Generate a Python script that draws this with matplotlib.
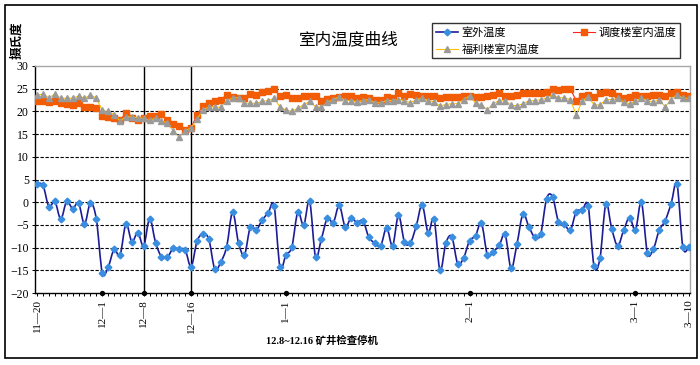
import matplotlib
matplotlib.use("Agg")
import matplotlib.pyplot as plt
import matplotlib.dates as mdates
from matplotlib.lines import Line2D
from matplotlib.path import Path
from matplotlib.patches import PathPatch, Rectangle
import pandas as pd

plt.rcParams['font.family'] = ['Liberation Serif', 'Noto Sans CJK SC', 'DejaVu Sans']

# daily readings, 11-20 .. 3-10
days = pd.date_range('2010-11-20', '2011-03-10', freq='D')

outdoor = [4.0, 3.7, -1.0, 0.2, -3.7, 0.2, -1.4, -0.2, -4.8, -0.2,
           -3.7, -15.5, -14.3, -10.4, -11.7, -4.8, -8.7, -6.7, -9.6, -3.6,
           -8.9, -12.0, -12.1, -10.1, -10.4, -10.5, -14.2, -8.6, -7.0, -8.2,
           -14.8, -13.2, -9.8, -2.2, -9.0, -11.6, -5.4, -6.1, -3.9, -2.4,
           -0.8, -14.3, -11.6, -9.9, -2.2, -5.1, 0.2, -12.0, -8.0, -3.5,
           -4.5, -0.7, -5.4, -3.5, -4.5, -4.1, -7.7, -9.0, -9.6, -5.6,
           -9.6, -2.9, -8.7, -9.0, -5.2, -0.6, -6.7, -3.7, -15.0, -9.0,
           -7.6, -13.6, -12.2, -8.5, -7.4, -4.6, -11.6, -10.9, -9.5, -7.1,
           -14.6, -9.2, -2.6, -5.4, -7.7, -7.0, 0.8, 1.2, -4.3, -4.8,
           -6.2, -2.1, -1.8, -0.8, -14.0, -12.4, -0.4, -5.9, -9.6, -6.2,
           -3.4, -6.1, 0.0, -11.1, -10.4, -6.2, -4.1, -0.4, 4.0, -9.9,
           -9.9]

diaodu = [22.4, 22.4, 22.1, 22.3, 21.8, 21.7, 21.5, 21.8, 21.0, 21.0,
          20.8, 19.0, 18.8, 18.5, 18.0, 19.7, 18.5, 18.2, 18.6, 19.0,
          19.0, 19.5, 18.0, 17.3, 16.8, 16.0, 16.4, 19.3, 21.2, 21.9,
          22.4, 22.6, 23.6, 23.2, 23.0, 23.0, 23.9, 23.7, 24.3, 24.5,
          24.9, 23.4, 23.7, 23.0, 22.9, 23.5, 23.5, 23.5, 22.3, 22.7,
          23.0, 23.2, 23.5, 23.5, 22.9, 23.2, 22.9, 22.6, 22.6, 23.2,
          23.0, 24.0, 23.5, 23.9, 23.7, 23.5, 23.5, 23.5, 23.0, 23.2,
          23.2, 23.2, 23.5, 23.3, 23.2, 23.2, 23.5, 23.7, 24.0, 23.5,
          23.5, 23.7, 24.0, 24.0, 24.0, 24.0, 24.3, 24.9, 24.8, 24.9,
          24.9, 22.4, 23.5, 23.7, 23.2, 24.0, 24.3, 24.0, 23.5, 22.9,
          23.2, 23.7, 23.5, 23.5, 23.7, 23.7, 23.5, 24.0, 24.2, 23.7,
          23.3]

fuli = [23.6, 23.8, 23.0, 23.8, 22.9, 22.9, 22.9, 23.4, 22.9, 23.6,
        23.0, 20.2, 20.0, 19.3, 17.9, 18.8, 18.8, 18.6, 18.5, 18.0,
        18.5, 17.9, 17.5, 15.7, 14.3, 15.7, 16.4, 18.3, 20.3, 21.0,
        21.0, 20.9, 22.2, 23.0, 23.0, 21.8, 21.8, 21.8, 22.2, 22.4,
        22.9, 21.0, 20.3, 20.0, 20.7, 21.5, 22.2, 21.0, 20.9, 22.0,
        22.6, 23.2, 22.4, 22.4, 22.1, 22.4, 22.6, 21.9, 21.9, 22.4,
        22.4, 22.6, 22.4, 21.9, 22.6, 22.9, 22.4, 22.1, 21.2, 21.5,
        21.7, 21.7, 22.6, 23.4, 21.9, 21.4, 20.4, 21.7, 22.4, 22.3,
        21.4, 21.2, 21.7, 22.3, 22.4, 22.6, 22.9, 23.6, 23.0, 23.0,
        22.6, 19.2, 22.3, 23.2, 21.5, 21.4, 22.6, 22.6, 22.9, 22.1,
        21.7, 22.3, 22.9, 22.4, 22.1, 22.6, 21.0, 22.6, 23.7, 22.9,
        22.9]

tick_dates = ['2010-11-20', '2010-12-01', '2010-12-08', '2010-12-16',
              '2011-01-01', '2011-02-01', '2011-03-01', '2011-03-10']
tick_labels = ['11—20', '12—1', '12—8', '12—16', '1—1', '2—1', '3—1', '3—10']
stop_dates = ['2010-12-08', '2010-12-16']

x = mdates.date2num(days)
ticks = mdates.date2num(pd.to_datetime(tick_dates))


def smooth_path(xs, ys):
    # excel-style smoothed line (catmull-rom as cubic bezier)
    n = len(xs)
    verts = [(xs[0], ys[0])]
    codes = [Path.MOVETO]
    for i in range(n - 1):
        xa, ya = (xs[i - 1], ys[i - 1]) if i > 0 else (xs[i], ys[i])
        xb, yb = (xs[i + 2], ys[i + 2]) if i + 2 < n else (xs[i + 1], ys[i + 1])
        c1 = (xs[i] + (xs[i + 1] - xa) / 6, ys[i] + (ys[i + 1] - ya) / 6)
        c2 = (xs[i + 1] - (xb - xs[i]) / 6, ys[i + 1] - (yb - ys[i]) / 6)
        verts += [c1, c2, (xs[i + 1], ys[i + 1])]
        codes += [Path.CURVE4] * 3
    return Path(verts, codes)


fig = plt.figure(figsize=(7, 3.65), dpi=100)
ax = fig.add_axes([35 / 700, 1 - 293 / 365, 655 / 700, 227 / 365])

for yv in [25, 20, 15, 10, 5, 0, -5, -10, -15]:
    ax.axhline(yv, color='black', lw=0.8, ls=(0, (3, 1.5)), zorder=1)

for d in mdates.date2num(pd.to_datetime(stop_dates)):
    ax.axvline(d, color='black', lw=1, zorder=2)

navy = '#1C1C96'
blue = '#3A8EE0'
ax.add_patch(PathPatch(smooth_path(x, outdoor), fill=False, ec=navy, lw=1.2, zorder=3))
ax.plot(x, outdoor, ls='none', marker='D', ms=3.4, color=blue, zorder=4)

ax.plot(x, diaodu, color='#FF2020', lw=0.8, marker='s', ms=4.8,
        mfc='#F25C05', mec='#F25C05', zorder=5)
ax.plot(x, fuli, color='#FFC000', lw=0.8, marker='^', ms=4.8,
        mfc='#9A9A9A', mec='#9A9A9A', zorder=6)

ax.set_ylim(-20, 30)
ax.set_yticks(range(-20, 31, 5))
ax.set_xlim(x[0] - 0.35, x[-1] + 0.2)

ax.xaxis.set_major_locator(plt.FixedLocator(ticks))
ax.set_xticklabels(tick_labels, rotation=90, fontsize=8)
ax.xaxis.set_minor_locator(mdates.DayLocator())
ax.tick_params(axis='x', which='both', direction='out', length=2.5, width=0.7, pad=2)
ax.tick_params(axis='y', direction='out', length=2.5, width=0.7, labelsize=8.5, pad=2)

# dots on the axis at the labelled dates
ax.plot(ticks[1:-1], [-20] * (len(ticks) - 2), 'o', color='black', ms=2.8,
        clip_on=False, zorder=7)

for side in ['left', 'bottom']:
    ax.spines[side].set_color('black')
    ax.spines[side].set_linewidth(1.0)
for side in ['top', 'right']:
    ax.spines[side].set_color('#A8A8A8')
    ax.spines[side].set_linewidth(1.0)

handles = [
    Line2D([], [], color=navy, lw=1.2, marker='D', ms=3.4, mfc=blue, mec=blue),
    Line2D([], [], color='#FFC000', lw=0.8, marker='^', ms=4.8, mfc='#9A9A9A', mec='#9A9A9A'),
    Line2D([], [], color='#FF2020', lw=0.8, marker='s', ms=4.8, mfc='#F25C05', mec='#F25C05'),
]
labels = ['室外温度', '福利楼室内温度', '调度楼室内温度']
leg = fig.legend(handles, labels, loc='upper left', bbox_to_anchor=(432 / 700, 1 - 23 / 365),
                 ncol=2, frameon=True, fancybox=False, edgecolor='black',
                 handlelength=2.0, columnspacing=3.0, borderpad=0.35, labelspacing=0.55,
                 handletextpad=0.3, borderaxespad=0,
                 prop={'family': ['Noto Sans CJK SC'], 'size': 8})
leg.get_frame().set_linewidth(1.0)

fig.text(348 / 700, 1 - 40 / 365, '室内温度曲线', fontsize=12, ha='center', va='center',
         family=['Noto Sans CJK SC'])
fig.text(17 / 700, 1 - 40 / 365, '摄氏度', fontsize=9, rotation=90, ha='center', va='center',
         family=['Noto Sans CJK SC'], fontweight='bold')
fig.text(322 / 700, 1 - 340 / 365, '12.8~12.16 矿井检查停机', fontsize=7.5, ha='center',
         va='center', fontweight='bold', family=['Liberation Serif', 'Noto Sans CJK SC'])

fig.add_artist(Rectangle((5 / 700, 1 - 358 / 365), 692 / 700, 353 / 365,
                         transform=fig.transFigure, fill=False, ec='black', lw=1.2))

fig.savefig('out.png', dpi=100)
